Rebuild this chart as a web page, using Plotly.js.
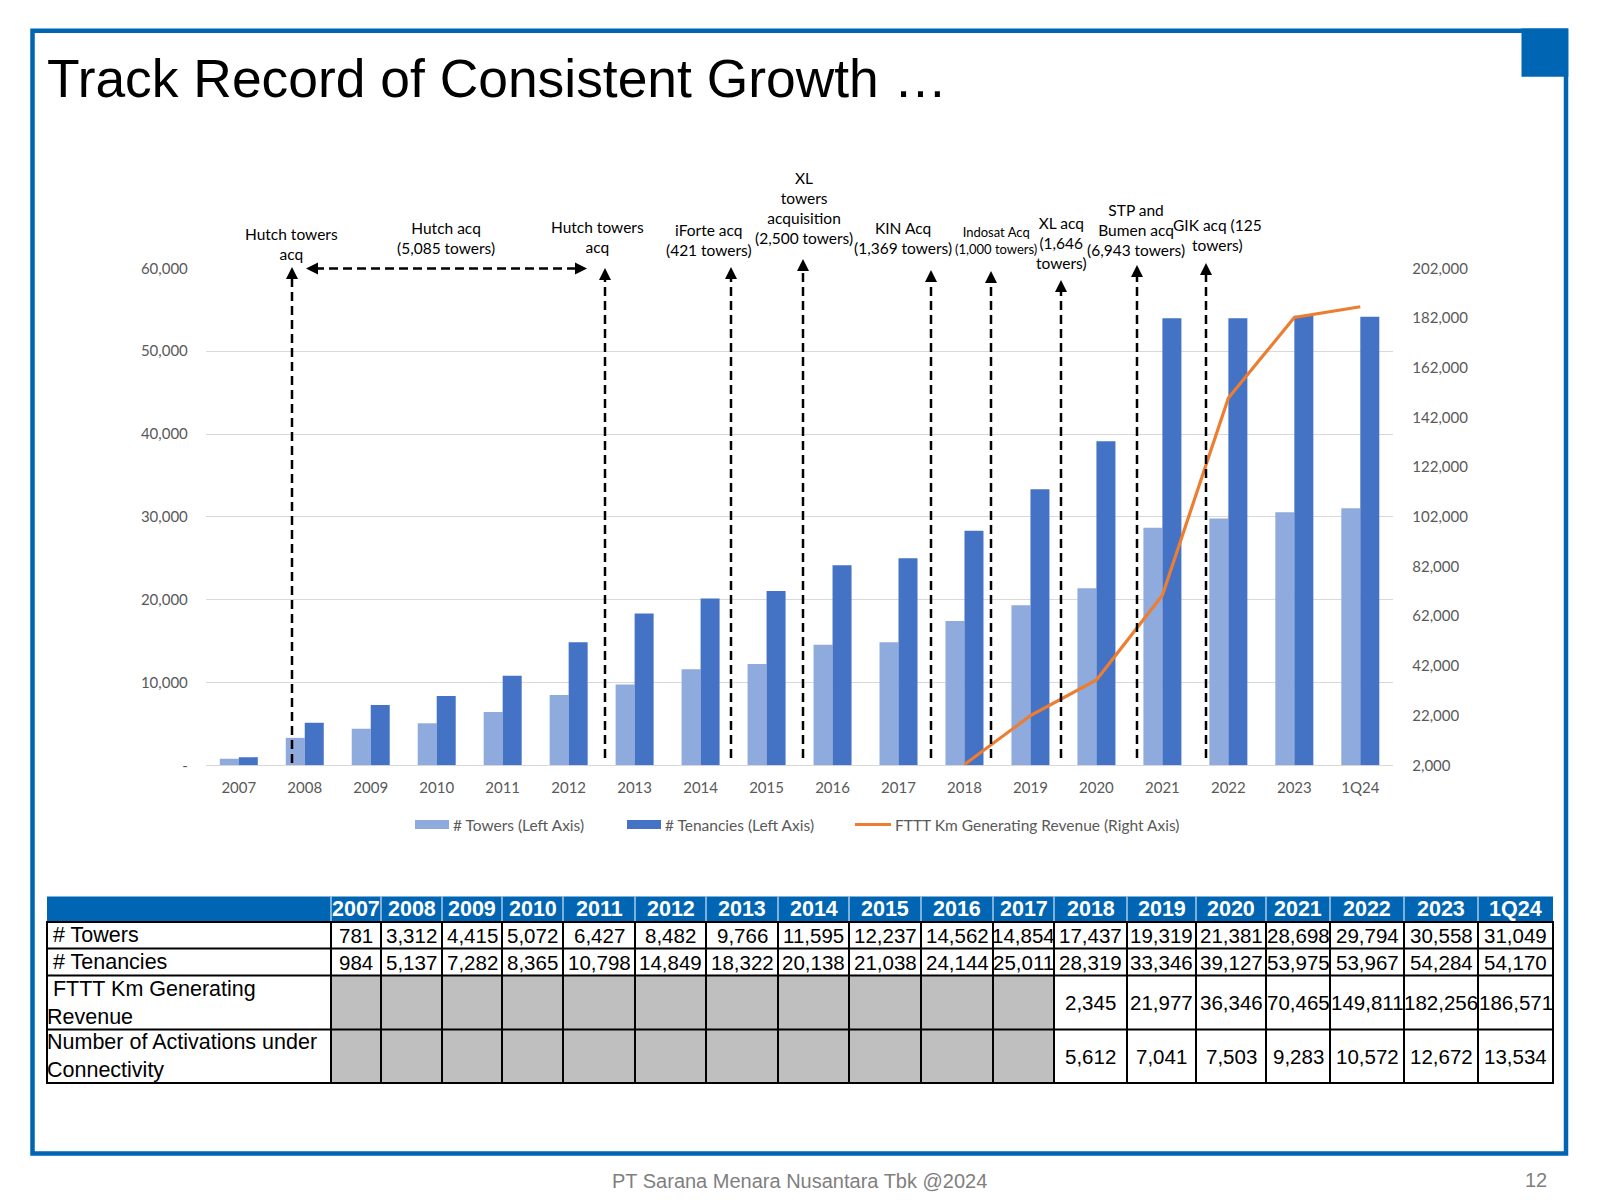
<!DOCTYPE html>
<html>
<head>
<meta charset="utf-8">
<script src="https://cdn.plot.ly/plotly-3.0.1.min.js"></script>
<style>
  html, body { margin: 0; padding: 0; background: #ffffff; }
  #chart { width: 1600px; height: 1200px; }
</style>
</head>
<body>
<div id="chart"></div>
<script>
// ---------- data ----------
const periods = ['2007','2008','2009','2010','2011','2012','2013','2014','2015','2016','2017','2018','2019','2020','2021','2022','2023','1Q24'];
const towers = [781, 3312, 4415, 5072, 6427, 8482, 9766, 11595, 12237, 14562, 14854, 17437, 19319, 21381, 28698, 29794, 30558, 31049];
const tenancies = [984, 5137, 7282, 8365, 10798, 14849, 18322, 20138, 21038, 24144, 25011, 28319, 33346, 39127, 53975, 53967, 54284, 54170];
const ftttPeriods = ['2018','2019','2020','2021','2022','2023','1Q24'];
const ftttKm = [2345, 21977, 36346, 70465, 149811, 182256, 186571];
const activations = [5612, 7041, 7503, 9283, 10572, 12672, 13534];

const leftTickVals = [0, 10000, 20000, 30000, 40000, 50000, 60000];
const leftTickText = ['-', '10,000', '20,000', '30,000', '40,000', '50,000', '60,000'];
const rightTickVals = [2000, 22000, 42000, 62000, 82000, 102000, 122000, 142000, 162000, 182000, 202000];
const rightTickText = ['2,000', '22,000', '42,000', '62,000', '82,000', '102,000', '122,000', '142,000', '162,000', '182,000', '202,000'];

const rowLabels = ['# Towers', '# Tenancies', '\u00a0FTTT Km Generating<br>Revenue', 'Number of Activations under<br>Connectivity'];

const seriesNames = ['# Towers (Left Axis)', '# Tenancies (Left Axis)', 'FTTT Km Generating Revenue (Right Axis)'];

// acquisition call-outs: label text, label centre (px), arrow x (px), arrow tip (px)
const callouts = [
  { text: 'Hutch towers<br>acq', cx: 291, cy: 244, ax: 292, tip: 267, bottom: 763 },
  { text: 'Hutch acq<br>(5,085 towers)', cx: 446, cy: 238 },
  { text: 'Hutch towers<br>acq', cx: 597, cy: 237, ax: 605, tip: 268, bottom: 758 },
  { text: 'iForte acq<br>(421 towers)', cx: 709, cy: 240, ax: 731, tip: 267, bottom: 758 },
  { text: 'XL<br>towers<br>acquisition<br>(2,500 towers)', cx: 804, cy: 208, ax: 803, tip: 259, bottom: 758 },
  { text: 'KIN Acq<br>(1,369 towers)', cx: 903, cy: 238, ax: 931, tip: 270, bottom: 758 },
  { text: 'Indosat Acq<br>(1,000 towers)', cx: 996, cy: 241, ax: 991, tip: 271, bottom: 758, size: 13 },
  { text: 'XL acq<br>(1,646<br>towers)', cx: 1061, cy: 243, ax: 1061, tip: 280, bottom: 758 },
  { text: 'STP and<br>Bumen acq<br>(6,943 towers)', cx: 1136, cy: 230, ax: 1137, tip: 265, bottom: 758 },
  { text: 'GIK acq (125<br>towers)', cx: 1217, cy: 235, ax: 1206, tip: 263, bottom: 758 }
];
// double-headed span arrow for the Hutch acquisition period
const span = { left: 306, right: 587, y: 268.4 };

// ---------- layout helpers ----------
const W = 1600, H = 1200;
const px = x => x / W;
const py = y => 1 - y / H;
const plot = { l: 205.8, r: 1393.3, t: 268.4, b: 765.3 };

const blue = '#0066B3';
const towerColor = '#8FAADC';
const tenancyColor = '#4472C4';
const lineColor = '#ED7D31';
const axisGrey = '#595959';
const uiFont = 'Lato, "Open Sans", sans-serif';
const tableFont = '"Liberation Sans", Arial, sans-serif';

const fmt = v => v.toLocaleString('en-US');

// ---------- traces ----------
const traces = [
  {
    type: 'bar', name: seriesNames[0], x: periods, y: towers,
    marker: { color: towerColor, line: { width: 0 } }, hoverinfo: 'x+y'
  },
  {
    type: 'bar', name: seriesNames[1], x: periods, y: tenancies,
    marker: { color: tenancyColor, line: { width: 0 } }, hoverinfo: 'x+y'
  },
  {
    type: 'scatter', mode: 'lines', name: seriesNames[2], x: ftttPeriods, y: ftttKm,
    yaxis: 'y2', line: { color: lineColor, width: 3.2 }, hoverinfo: 'x+y'
  },
  // anchor trace for the table frame
  { type: 'scatter', x: [], y: [], xaxis: 'x3', yaxis: 'y3', showlegend: false, hoverinfo: 'skip' }
];

// ---------- shapes & annotations ----------
const shapes = [];
const annotations = [];

// page frame and corner block
shapes.push({ type: 'rect', xref: 'paper', yref: 'paper', x0: px(32.5), x1: px(1566), y0: py(30.8), y1: py(1153.5),
  line: { color: blue, width: 4.5 }, fillcolor: 'rgba(0,0,0,0)', layer: 'below' });
shapes.push({ type: 'rect', xref: 'paper', yref: 'paper', x0: px(1521.5), x1: px(1568.3), y0: py(28.5), y1: py(76.7),
  line: { width: 0 }, fillcolor: blue, layer: 'below' });

annotations.push({ xref: 'paper', yref: 'paper', x: px(45), y: py(79), xanchor: 'left', yanchor: 'middle',
  text: 'Track Record of Consistent Growth …', showarrow: false,
  font: { family: tableFont, size: 53.4, color: '#000000' } });

annotations.push({ xref: 'paper', yref: 'paper', x: px(610), y: py(1181), xanchor: 'left', yanchor: 'middle',
  text: 'PT Sarana Menara Nusantara Tbk @2024', showarrow: false,
  font: { family: tableFont, size: 20, color: '#7F7F7F' } });
annotations.push({ xref: 'paper', yref: 'paper', x: px(1549), y: py(1180), xanchor: 'right', yanchor: 'middle',
  text: '12', showarrow: false, font: { family: tableFont, size: 20, color: '#7F7F7F' } });

// call-out labels and dashed arrows
const dash = { color: '#000000', width: 2.5, dash: '9px,5px' };
const head = { showarrow: true, arrowhead: 2, arrowsize: 1.2, arrowwidth: 2, arrowcolor: '#000000', text: '', standoff: 0 };
callouts.forEach(c => {
  annotations.push({ xref: 'paper', yref: 'paper', x: px(c.cx), y: py(c.cy), xanchor: 'center', yanchor: 'middle',
    text: c.text, showarrow: false, align: 'center',
    font: { family: uiFont, size: c.size || 15.5, color: '#000000' } });
  if (c.ax !== undefined) {
    shapes.push({ type: 'line', xref: 'paper', yref: 'paper', x0: px(c.ax), x1: px(c.ax), y0: py(c.bottom), y1: py(c.tip + 9), line: dash });
    annotations.push(Object.assign({ xref: 'paper', yref: 'paper', x: px(c.ax), y: py(c.tip), ax: 0, ay: 11 }, head));
  }
});
shapes.push({ type: 'line', xref: 'paper', yref: 'paper', x0: px(span.left + 9), x1: px(span.right - 9), y0: py(span.y), y1: py(span.y), line: dash });
annotations.push(Object.assign({ xref: 'paper', yref: 'paper', x: px(span.left), y: py(span.y), ax: 11, ay: 0 }, head));
annotations.push(Object.assign({ xref: 'paper', yref: 'paper', x: px(span.right), y: py(span.y), ax: -11, ay: 0 }, head));

// legend (wide swatches)
const legendY = 824.5;
const legendItems = [
  { kind: 'bar', color: towerColor, x0: 415, x1: 449, tx: 451, label: seriesNames[0] },
  { kind: 'bar', color: tenancyColor, x0: 627, x1: 661, tx: 663, label: seriesNames[1] },
  { kind: 'line', color: lineColor, x0: 855, x1: 891, tx: 893, label: seriesNames[2] }
];
legendItems.forEach(it => {
  if (it.kind === 'bar') {
    shapes.push({ type: 'rect', xref: 'paper', yref: 'paper', x0: px(it.x0), x1: px(it.x1), y0: py(legendY + 4.5), y1: py(legendY - 4.5),
      line: { width: 0 }, fillcolor: it.color });
  } else {
    shapes.push({ type: 'line', xref: 'paper', yref: 'paper', x0: px(it.x0), x1: px(it.x1), y0: py(legendY), y1: py(legendY),
      line: { color: it.color, width: 3 } });
  }
  annotations.push({ xref: 'paper', yref: 'paper', x: px(it.tx), y: py(legendY), xanchor: 'left', yanchor: 'middle',
    text: it.label, showarrow: false, font: { family: uiFont, size: 15.5, color: axisGrey } });
});

// ---------- data table (drawn on x3/y3, one unit = one pixel) ----------
const colEdges = [47, 331, 381, 442, 502, 563, 635, 706, 778, 849, 921, 993, 1054, 1127, 1196, 1266, 1330, 1404, 1478, 1553];
const rowEdges = [896.5, 922, 948.5, 975.5, 1029.5, 1083];
const ftttByPeriod = periods.map(p => { const i = ftttPeriods.indexOf(p); return i < 0 ? null : ftttKm[i]; });
const actByPeriod = periods.map(p => { const i = ftttPeriods.indexOf(p); return i < 0 ? null : activations[i]; });
const tableRows = [towers, tenancies, ftttByPeriod, actByPeriod];
const labelIndent = [6, 6, 0, 0];
const T = { xref: 'x3', yref: 'y3' };

// header band
shapes.push(Object.assign({ type: 'rect', x0: colEdges[0], x1: colEdges[colEdges.length - 1], y0: rowEdges[0], y1: rowEdges[1],
  line: { width: 0 }, fillcolor: blue, layer: 'below' }, T));
// body cells
tableRows.forEach((vals, r) => {
  vals.forEach((v, c) => {
    shapes.push(Object.assign({ type: 'rect', x0: colEdges[c + 1], x1: colEdges[c + 2], y0: rowEdges[r + 1], y1: rowEdges[r + 2],
      line: { width: 0 }, fillcolor: v === null ? '#BFBFBF' : '#FFFFFF', layer: 'below' }, T));
  });
});
// header separators
for (let c = 1; c < colEdges.length - 1; c++) {
  shapes.push(Object.assign({ type: 'line', x0: colEdges[c], x1: colEdges[c], y0: rowEdges[0], y1: rowEdges[1],
    line: { color: '#D6E4F2', width: 1.2 } }, T));
}
// body grid
for (let r = 1; r < rowEdges.length; r++) {
  shapes.push(Object.assign({ type: 'line', x0: colEdges[0] - 1, x1: colEdges[colEdges.length - 1] + 1, y0: rowEdges[r], y1: rowEdges[r],
    line: { color: '#000000', width: 2 } }, T));
}
colEdges.forEach(x => {
  shapes.push(Object.assign({ type: 'line', x0: x, x1: x, y0: rowEdges[1], y1: rowEdges[rowEdges.length - 1],
    line: { color: '#000000', width: 2 } }, T));
});
// header text
periods.forEach((p, c) => {
  annotations.push(Object.assign({ x: (colEdges[c + 1] + colEdges[c + 2]) / 2, y: (rowEdges[0] + rowEdges[1]) / 2,
    xanchor: 'center', yanchor: 'middle', text: '<b>' + p + '</b>', showarrow: false,
    font: { family: tableFont, size: 21.5, color: '#FFFFFF' } }, T));
});
// row labels and values
tableRows.forEach((vals, r) => {
  const yc = (rowEdges[r + 1] + rowEdges[r + 2]) / 2;
  annotations.push(Object.assign({ x: colEdges[0] - 2 + labelIndent[r], y: yc, xanchor: 'left', yanchor: 'middle', align: 'left',
    text: rowLabels[r], showarrow: false, font: { family: tableFont, size: 21.5, color: '#000000' } }, T));
  vals.forEach((v, c) => {
    if (v === null) return;
    annotations.push(Object.assign({ x: (colEdges[c + 1] + colEdges[c + 2]) / 2, y: yc, xanchor: 'center', yanchor: 'middle',
      text: fmt(v), showarrow: false, font: { family: tableFont, size: 20.5, color: '#000000' } }, T));
  });
});

// ---------- layout ----------
const layout = {
  width: W, height: H,
  margin: { l: 0, r: 0, t: 0, b: 0, pad: 0 },
  paper_bgcolor: '#FFFFFF', plot_bgcolor: 'rgba(0,0,0,0)',
  font: { family: uiFont, size: 15, color: axisGrey },
  showlegend: false,
  barmode: 'group', bargap: 0.424, bargroupgap: 0,
  xaxis: {
    type: 'category', categoryorder: 'array', categoryarray: periods,
    domain: [px(plot.l), px(plot.r)], anchor: 'y',
    showgrid: false, zeroline: false, showline: false,
    ticks: 'outside', ticklen: 9, tickcolor: 'rgba(0,0,0,0)',
    tickfont: { family: uiFont, size: 15, color: axisGrey }, fixedrange: true
  },
  yaxis: {
    domain: [py(plot.b), py(plot.t)], anchor: 'x',
    range: [0, 60000], tickmode: 'array', tickvals: leftTickVals, ticktext: leftTickText,
    showgrid: true, gridcolor: '#D9D9D9', gridwidth: 1,
    zeroline: true, zerolinecolor: '#D9D9D9', zerolinewidth: 1, showline: false,
    ticks: 'outside', ticklen: 14, tickcolor: 'rgba(0,0,0,0)',
    tickfont: { family: uiFont, size: 15, color: axisGrey }, fixedrange: true
  },
  yaxis2: {
    overlaying: 'y', side: 'right', anchor: 'x',
    range: [2000, 202000], tickmode: 'array', tickvals: rightTickVals, ticktext: rightTickText,
    showgrid: false, zeroline: false, showline: false,
    ticks: 'outside', ticklen: 15, tickcolor: 'rgba(0,0,0,0)',
    tickfont: { family: uiFont, size: 15, color: axisGrey }, fixedrange: true
  },
  xaxis3: { domain: [0, 1], range: [0, W], anchor: 'y3', visible: false, fixedrange: true },
  yaxis3: { domain: [0, 1], range: [H, 0], anchor: 'x3', visible: false, fixedrange: true },
  shapes: shapes,
  annotations: annotations
};

Plotly.newPlot('chart', traces, layout, { displayModeBar: false, responsive: false });
</script>
</body>
</html>
